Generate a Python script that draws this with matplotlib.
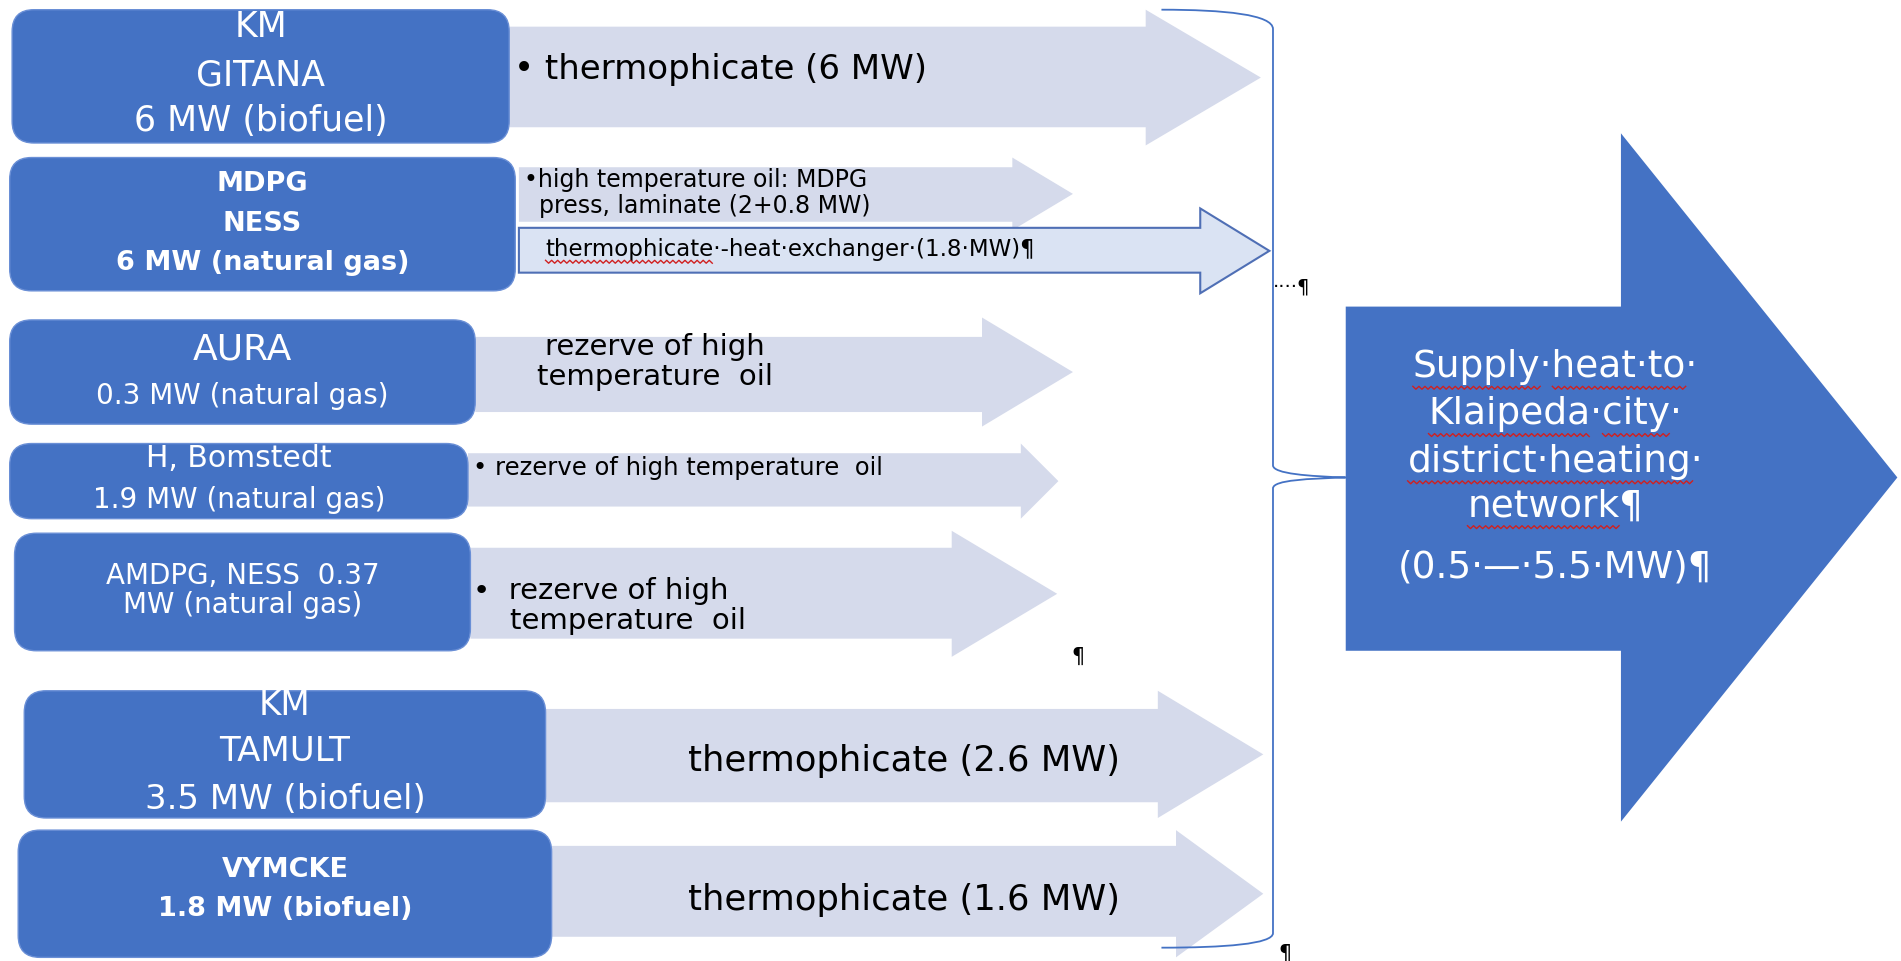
import matplotlib
matplotlib.use("Agg")
import matplotlib.pyplot as plt
from matplotlib.patches import FancyBboxPatch, Polygon, PathPatch
from matplotlib.path import Path
from matplotlib.font_manager import FontProperties
import numpy as np

# source boxes (label lines, bold flag)
box_lines = [
    ["KM", "GITANA", "6 MW (biofuel)"],
    ["MDPG", "NESS", "6 MW (natural gas)"],
    ["AURA", "0.3 MW (natural gas)"],
    ["H, Bomstedt", "1.9 MW (natural gas)"],
    ["AMDPG, NESS  0.37", "MW (natural gas)"],
    ["KM", "TAMULT", "3.5 MW (biofuel)"],
    ["VYMCKE", "1.8 MW (biofuel)"],
]
box_bold = [False, True, False, False, False, False, True]

# arrow captions
arrow_text = [
    "\u2022 thermophicate (6 MW)",
    "\u2022high temperature oil: MDPG\n  press, laminate (2+0.8 MW)",
    "thermophicate\u00b7-heat\u00b7exchanger\u00b7(1.8\u00b7MW)\u00b6",
    "rezerve of high\ntemperature  oil",
    "\u2022 rezerve of high temperature  oil",
    "\u2022  rezerve of high\n    temperature  oil",
    "thermophicate (2.6 MW)",
    "thermophicate (1.6 MW)",
]

target_lines = ["Supply\u00b7heat\u00b7to\u00b7", "Klaipeda\u00b7city\u00b7",
                "district\u00b7heating\u00b7", "network\u00b6", "(0.5\u00b7\u2014\u00b75.5\u00b7MW)\u00b6"]
# words underlined by the spell checker: (line index, first char, last char)
target_marks = [(0, 0, 6), (0, 7, 14), (1, 0, 8), (1, 9, 13), (2, 0, 16), (3, 0, 7)]

# ---- layout (pixel units of a 1568 x 793 canvas) ----
# box: x0, x1, y0, y1, line y positions, font sizes
box_geo = [
    (10, 420, 8, 118, [22, 62, 100], [25, 25, 25]),
    (8, 425, 130, 240, [152, 185, 217], [19.5, 19.5, 19.5]),
    (8, 392, 264, 350, [288, 327], [26, 20]),
    (8, 386, 366, 428, [378, 413], [21.5, 20]),
    (12, 388, 440, 537, [475, 499], [20, 20]),
    (20, 450, 570, 675, [582, 620, 660], [24.5, 24.5, 24.5]),
    (15, 455, 685, 790, [718, 750], [19.5, 19.5]),
]
# arrow: x0, xneck, xtip, body y0, body y1, head y0, head y1
arrow_geo = [
    (420, 945, 1040, 22, 105, 8, 120),
    (428, 835, 885, 138, 183, 130, 190),
    (428, 990, 1047, 188, 225, 172, 242),
    (392, 810, 885, 278, 340, 262, 352),
    (386, 842, 873, 374, 418, 366, 428),
    (388, 785, 872, 452, 527, 438, 542),
    (450, 955, 1042, 585, 662, 570, 675),
    (455, 970, 1042, 698, 773, 685, 790),
]
# caption: x, y, ha, fontsize
text_geo = [
    (424, 57, "left", 24.5),
    (432, 159, "left", 17),
    (450, 206, "left", 16.5),
    (540, 299, "center", 21),
    (390, 386, "left", 17.5),
    (390, 500, "left", 21),
    (746, 628, "center", 25.5),
    (746, 743, "center", 25.5),
]

blue = "#4472C4"
light = "#D5DAEB"
px = 1901 / 1568  # pixels per canvas unit

fig = plt.figure(figsize=(19.01, 9.61), dpi=100)
ax = fig.add_axes([0, 0, 1, 1])
ax.set_xlim(0, 1568)
ax.set_ylim(793, 0)
ax.axis("off")
renderer = fig.canvas.get_renderer()


def text_width(s, size):
    w, h, d = renderer.get_text_width_height_descent(s, FontProperties(family="DejaVu Sans", size=size), False)
    return w / px


def squiggle(xa, xb, y):
    xs = np.arange(xa, xb + 1, 2.5)
    ys = y + np.where(np.arange(len(xs)) % 2 == 0, -1.2, 1.2)
    ax.plot(xs, ys, color="#D02020", lw=1, zorder=5)


# light arrows
for i, (x0, xn, xt, by0, by1, hy0, hy1) in enumerate(arrow_geo):
    yc = (hy0 + hy1) / 2
    pts = [(x0, by0), (xn, by0), (xn, hy0), (xt, yc), (xn, hy1), (xn, by1), (x0, by1)]
    if i == 2:
        ax.add_patch(Polygon(pts, closed=True, facecolor="#DAE3F3", edgecolor="#4F6FB5", lw=1.5, zorder=1))
    else:
        ax.add_patch(Polygon(pts, closed=True, facecolor=light, edgecolor="none", zorder=1))

# blue boxes
for lines, bold, (x0, x1, y0, y1, ys, fs) in zip(box_lines, box_bold, box_geo):
    ax.add_patch(FancyBboxPatch((x0, y0), x1 - x0, y1 - y0,
                                boxstyle="round,pad=0,rounding_size=18",
                                facecolor=blue, edgecolor="#6A8FD6", lw=1, zorder=2))
    for s, y, f in zip(lines, ys, fs):
        ax.text((x0 + x1) / 2, y, s, color="white", fontsize=f, ha="center", va="center",
                fontweight="bold" if bold else "normal", zorder=3)

# captions
for s, (x, y, ha, f) in zip(arrow_text, text_geo):
    ax.text(x, y, s, color="black", fontsize=f, ha=ha, va="center", linespacing=1.1, zorder=3)
squiggle(text_geo[2][0], text_geo[2][0] + text_width("thermophicate", text_geo[2][3]), text_geo[2][1] + 10)

# paragraph marks
ax.text(1050, 237, "\u00b7\u00b7\u00b7\u00b7\u00b6", fontsize=14, ha="left", va="center", color="black")
ax.text(889, 542, "\u00b6", fontsize=15, ha="center", va="center", color="black")
ax.text(1060, 787, "\u00b6", fontsize=15, ha="center", va="center", color="black")

# brace
verts = [(958, 8), (1010, 8), (1050, 12), (1050, 24),
         (1050, 384),
         (1050, 391), (1080, 393), (1110, 394),
         (1080, 395), (1050, 396), (1050, 403),
         (1050, 770),
         (1050, 779), (1010, 782), (958, 782)]
codes = [Path.MOVETO, Path.CURVE4, Path.CURVE4, Path.CURVE4,
         Path.LINETO,
         Path.CURVE4, Path.CURVE4, Path.CURVE4,
         Path.CURVE4, Path.CURVE4, Path.CURVE4,
         Path.LINETO,
         Path.CURVE4, Path.CURVE4, Path.CURVE4]
ax.add_patch(PathPatch(Path(verts, codes), facecolor="none", edgecolor=blue, lw=1.3, zorder=4))

# big target arrow
big = [(1110, 253), (1337, 253), (1337, 110), (1565, 394), (1337, 678), (1337, 537), (1110, 537)]
ax.add_patch(Polygon(big, closed=True, facecolor=blue, edgecolor="none", zorder=2))
target_y = [303, 342, 381, 418, 468]
target_fs = 27
for s, y in zip(target_lines, target_y):
    ax.text(1283, y, s, color="white", fontsize=target_fs, ha="center", va="center", zorder=3)
for li, a, b in target_marks:
    s = target_lines[li]
    left = 1283 - text_width(s, target_fs) / 2
    squiggle(left + text_width(s[:a], target_fs), left + text_width(s[:b], target_fs), target_y[li] + 17)

fig.savefig("out.png", dpi=100)
